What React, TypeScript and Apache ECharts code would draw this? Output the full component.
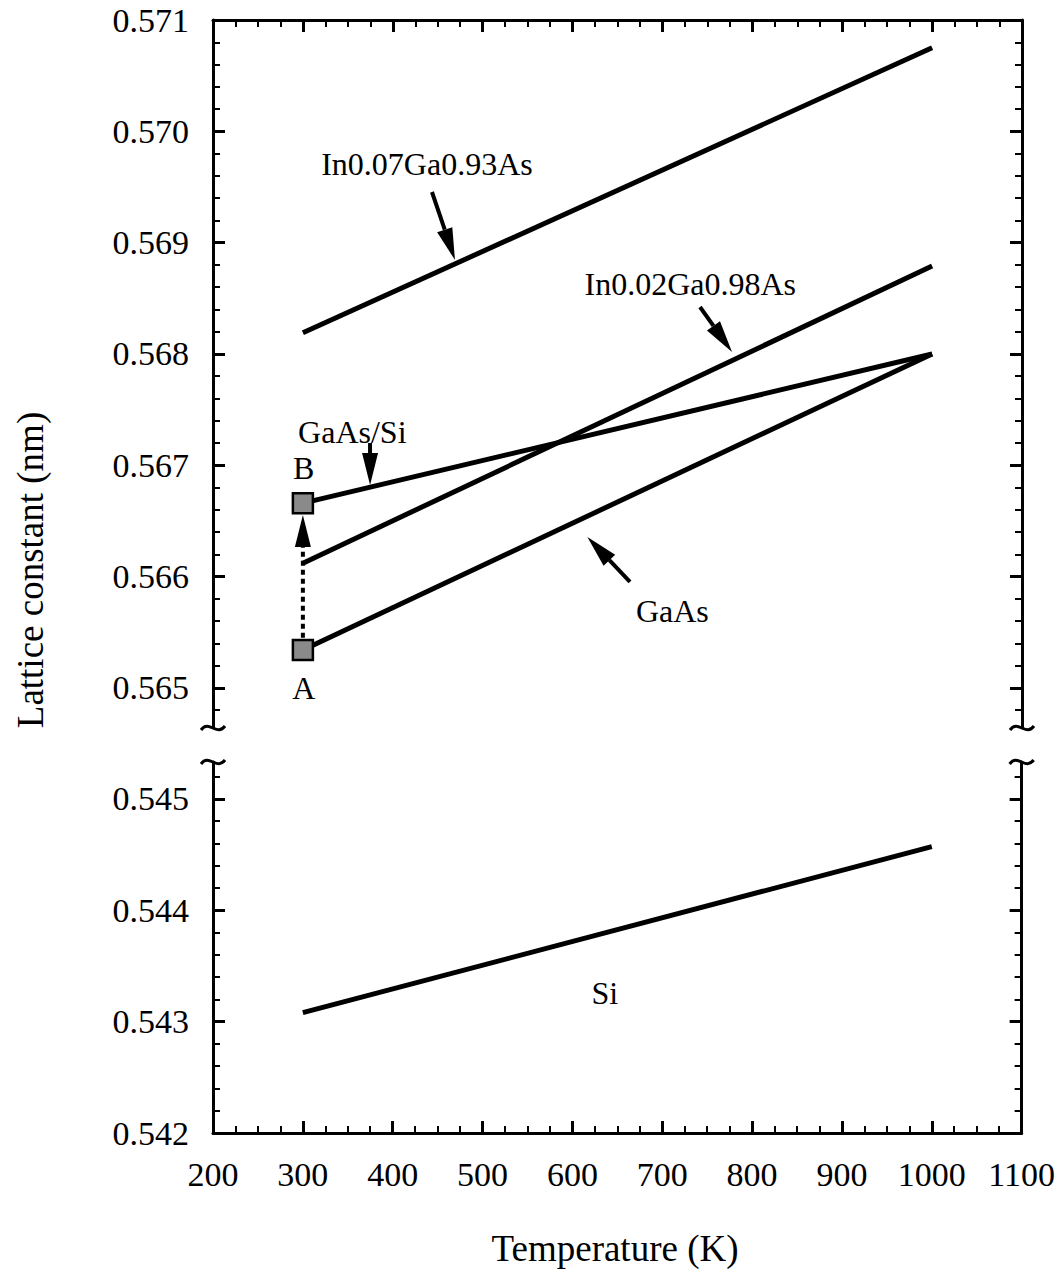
import React, { useEffect, useRef } from "react";
import * as echarts from "echarts";

// ---- data ----
const temps = [300, 1000];
const in07Ga093As = [0.56819, 0.57075];
const in02Ga098As = [0.56612, 0.56879];
const gaasOnSi = [0.56666, 0.568];
const gaas = [0.56534, 0.568];
const si = [0.54308, 0.54457];
const markerTemps = [300, 300];
const markerValues = [0.56534, 0.56666];
const markerNames = ["A", "B"];
const xTickValues = [200, 300, 400, 500, 600, 700, 800, 900, 1000, 1100];
const topYTicks = [0.565, 0.566, 0.567, 0.568, 0.569, 0.57, 0.571];
const bottomYTicks = [0.542, 0.543, 0.544, 0.545];

const TOP_MIN = 0.56464;
const TOP_MAX = 0.571;
const BOT_MIN = 0.542;
const BOT_MAX = 0.54533;

function minorTicks(min: number, max: number, majors: number[]) {
  const out: number[] = [];
  const start = Math.ceil(min / 0.0002 - 1e-6);
  const end = Math.floor(max / 0.0002 + 1e-6);
  for (let k = start; k <= end; k++) {
    const v = Math.round(k * 0.0002 * 1e5) / 1e5;
    if (!majors.some((m) => Math.abs(m - v) < 1e-7)) out.push(v);
  }
  return out;
}

const FONT = '"Liberation Serif", "Times New Roman", serif';
const BLACK = "#000";

// annotation placement (data coordinates)
const labelsTop = [
  { text: "In0.07Ga0.93As", x: 438, y: 0.56971 },
  { text: "In0.02Ga0.98As", x: 731, y: 0.56863 },
  { text: "GaAs/Si", x: 355, y: 0.5673 },
  { text: "GaAs", x: 711, y: 0.56569 },
  { text: "B", x: 301, y: 0.56698 },
  { text: "A", x: 301, y: 0.565 },
];
const labelsBottom = [{ text: "Si", x: 636, y: 0.54326 }];
const arrowsTop = [
  { from: [443.6, 0.569455], to: [469.2, 0.568844] },
  { from: [741.8, 0.568422], to: [777.4, 0.568018] },
  { from: [374.7, 0.5672], to: [374.7, 0.566823] },
  { from: [663.9, 0.565952], to: [616.5, 0.566356] },
];
const dottedArrow = { from: [300, 0.56545], to: [300, 0.566554] };

function yAxes(gridIndex: number, min: number, max: number, majors: number[]) {
  const minors = minorTicks(min, max, majors);
  const base = {
    type: "value",
    gridIndex,
    min,
    max,
    splitLine: { show: false },
    axisLine: { show: false, lineStyle: { color: BLACK, width: 3 } },
  };
  return [
    {
      ...base,
      position: "left",
      axisLine: { show: true, lineStyle: { color: BLACK, width: 3 } },
      axisTick: { show: true, inside: true, length: 12, customValues: majors, lineStyle: { color: BLACK, width: 3 } },
      axisLabel: {
        show: true,
        customValues: majors,
        formatter: (v: number) => v.toFixed(3),
        fontFamily: FONT,
        fontSize: 34,
        color: BLACK,
        margin: 24,
      },
    },
    {
      ...base,
      position: "left",
      axisTick: { show: true, inside: true, length: 7, customValues: minors, lineStyle: { color: BLACK, width: 2 } },
      axisLabel: { show: false },
    },
    {
      ...base,
      position: "right",
      axisLine: { show: true, lineStyle: { color: BLACK, width: 3 } },
      axisTick: { show: true, inside: true, length: 12, customValues: majors, lineStyle: { color: BLACK, width: 3 } },
      axisLabel: { show: false },
    },
    {
      ...base,
      position: "right",
      axisTick: { show: true, inside: true, length: 7, customValues: minors, lineStyle: { color: BLACK, width: 2 } },
      axisLabel: { show: false },
    },
  ];
}

function xAxis(gridIndex: number, position: string, showLabel: boolean) {
  return {
    type: "value",
    gridIndex,
    position,
    min: xTickValues[0],
    max: xTickValues[xTickValues.length - 1],
    interval: 100,
    splitLine: { show: false },
    axisLine: { show: true, onZero: false, lineStyle: { color: BLACK, width: 3 } },
    axisTick: { show: true, inside: true, length: 12, lineStyle: { color: BLACK, width: 3 } },
    minorTick: { show: true, splitNumber: 4, length: 7, lineStyle: { color: BLACK, width: 2 } },
    axisLabel: {
      show: showLabel,
      formatter: (v: number) => String(v),
      fontFamily: FONT,
      fontSize: 34,
      color: BLACK,
      margin: 24,
    },
  };
}

function lineSeries(name: string, values: number[], xi: number, yi: number) {
  return {
    name,
    type: "line",
    xAxisIndex: xi,
    yAxisIndex: yi,
    data: temps.map((t, i) => [t, values[i]]),
    symbol: "none",
    lineStyle: { color: BLACK, width: 5 },
    z: 3,
  };
}

export default function App() {
  const ref = useRef<HTMLDivElement>(null);
  useEffect(() => {
    if (!ref.current) return;
    const chart = echarts.init(ref.current, undefined, { renderer: "svg" });
    chart.setOption({
      animation: false,
      backgroundColor: "#fff",
      grid: [
        { left: 213, right: 36, top: 20, height: 708 },
        { left: 213, right: 36, top: 762, height: 371 },
      ],
      xAxis: [xAxis(0, "top", false), xAxis(1, "bottom", true)],
      yAxis: [
        ...yAxes(0, TOP_MIN, TOP_MAX, topYTicks),
        ...yAxes(1, BOT_MIN, BOT_MAX, bottomYTicks),
      ],
      series: [
        lineSeries("In0.07Ga0.93As", in07Ga093As, 0, 0),
        lineSeries("In0.02Ga0.98As", in02Ga098As, 0, 0),
        lineSeries("GaAs/Si", gaasOnSi, 0, 0),
        lineSeries("GaAs", gaas, 0, 0),
        lineSeries("Si", si, 1, 4),
        {
          name: "points",
          type: "scatter",
          xAxisIndex: 0,
          yAxisIndex: 0,
          data: markerTemps.map((t, i) => ({ name: markerNames[i], value: [t, markerValues[i]] })),
          symbol: "rect",
          symbolSize: 20,
          itemStyle: {
            color: "#8a8a8a",
            borderColor: BLACK,
            borderWidth: 2.5,
            opacity: 1,
          },
          z: 5,
        },
      ],
    });

    const toPx = (panel: number, p: number[]) =>
      chart.convertToPixel({ xAxisIndex: panel, yAxisIndex: panel === 0 ? 0 : 4 }, p) as number[];

    const graphics: any[] = [];
    const arrow = (a: number[], b: number[], dashed: boolean) => {
      const dx = b[0] - a[0];
      const dy = b[1] - a[1];
      const len = Math.hypot(dx, dy);
      const ux = dx / len;
      const uy = dy / len;
      const hl = 32;
      const hw = 8;
      const bx = b[0] - ux * hl;
      const by = b[1] - uy * hl;
      graphics.push({
        type: "line",
        shape: { x1: a[0], y1: a[1], x2: bx, y2: by },
        style: { stroke: BLACK, lineWidth: 4, lineDash: dashed ? [5, 4] : null },
        z: 10,
      });
      graphics.push({
        type: "polygon",
        shape: {
          points: [
            [b[0], b[1]],
            [bx - uy * hw, by + ux * hw],
            [bx + uy * hw, by - ux * hw],
          ],
        },
        style: { fill: BLACK },
        z: 10,
      });
    };
    arrowsTop.forEach((ar) => arrow(toPx(0, ar.from), toPx(0, ar.to), false));
    arrow(toPx(0, dottedArrow.from), toPx(0, dottedArrow.to), true);

    const addText = (panel: number, l: { text: string; x: number; y: number }) => {
      const p = toPx(panel, [l.x, l.y]);
      graphics.push({
        type: "text",
        x: p[0],
        y: p[1],
        style: {
          text: l.text,
          font: `32px ${FONT}`,
          fill: BLACK,
          align: "center",
          verticalAlign: "middle",
        },
        z: 10,
      });
    };
    labelsTop.forEach((l) => addText(0, l));
    labelsBottom.forEach((l) => addText(1, l));

    // axis break squiggles
    const tl = toPx(0, [200, TOP_MIN]);
    const tr = toPx(0, [1100, TOP_MIN]);
    const bl = toPx(1, [200, BOT_MAX]);
    const br = toPx(1, [1100, BOT_MAX]);
    [tl, tr, bl, br].forEach((p) => {
      graphics.push({
        type: "bezierCurve",
        shape: {
          x1: p[0] - 12,
          y1: p[1] + 2,
          cpx1: p[0] - 4,
          cpy1: p[1] - 9,
          cpx2: p[0] + 4,
          cpy2: p[1] + 9,
          x2: p[0] + 12,
          y2: p[1] - 2,
        },
        style: { stroke: BLACK, lineWidth: 3, fill: null },
        z: 10,
      });
    });

    // axis titles
    graphics.push({
      type: "text",
      x: 30,
      y: 570,
      rotation: Math.PI / 2,
      style: {
        text: "Lattice constant (nm)",
        font: `37px ${FONT}`,
        fill: BLACK,
        align: "center",
        verticalAlign: "middle",
      },
    });
    graphics.push({
      type: "text",
      x: 615,
      y: 1248,
      style: {
        text: "Temperature (K)",
        font: `37px ${FONT}`,
        fill: BLACK,
        align: "center",
        verticalAlign: "middle",
      },
    });

    chart.setOption({ graphic: graphics });
    return () => chart.dispose();
  }, []);

  return (
    <div
      ref={ref}
      style={{ position: "absolute", left: 0, top: 0, width: 1058, height: 1277 }}
    />
  );
}
